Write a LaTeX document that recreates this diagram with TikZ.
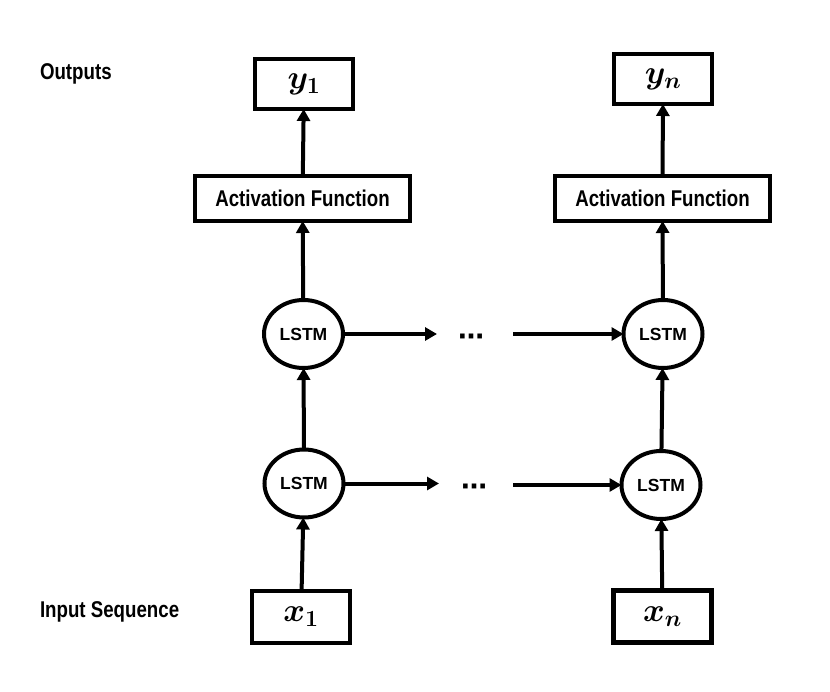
\RequirePackage{fix-cm}
\documentclass[tikz,border=0pt]{standalone}
\usepackage{fontspec}
\setmainfont{Liberation Sans}
\newfontfamily\narrowfont[FakeStretch=0.82]{Liberation Sans}
\newfontfamily\dvfont{DejaVu Sans}
\usepackage{bm}
\usetikzlibrary{shapes.geometric,arrows.meta}
\begin{document}
\begin{tikzpicture}[x=1pt,y=-1pt,
  every node/.style={inner sep=0pt, outer sep=0pt},
  box/.style={draw, rectangle, line width=4.2pt},
  lstm/.style={draw, ellipse, line width=4pt, minimum width=79pt, minimum height=68pt,
    font=\fontsize{17.5}{19}\selectfont\bfseries},
  arr/.style={line width=4pt, -{Triangle[length=12pt,width=13pt]}},
  lbl/.style={font=\narrowfont\bfseries\fontsize{22.8}{26}\selectfont},
  mathlbl/.style={font=\fontsize{33}{36}\selectfont},
  dotsnode/.style={font=\dvfont\bfseries\fontsize{26}{28}\selectfont},
  outbox/.style={box, mathlbl, minimum width=98pt, minimum height=50pt},
  afbox/.style={box, lbl, minimum width=215pt, minimum height=45pt}
  ]
\useasboundingbox (0,0) rectangle (830,692);

% output boxes
\node[outbox] (y1) at (304,84) {$\bm{y}_{\bm{1}}$};
\node[outbox] (yn) at (663,79) {$\bm{y}_{\bm{n}}$};
% activation boxes
\node[afbox] (af1) at (302.5,198.5) {Activation Function};
\node[afbox] (afn) at (662.5,198.5) {Activation Function};
% LSTM cells
\node[lstm] (l12) at (303.5,334) {LSTM};
\node[lstm] (ln2) at (663,334) {LSTM};
\node[lstm] (l11) at (304,483.5) {LSTM};
\node[lstm] (ln1) at (661,485) {LSTM};
% input boxes
\node[outbox, minimum height=52pt] (x1) at (301,617) {$\bm{x}_{\bm{1}}$};
\node[outbox, minimum height=52pt] (xn) at (662.5,616.5) {$\bm{x}_{\bm{n}}$};
% side labels
\node[lbl, anchor=west] (outl) at (40,74) {Outputs};
\node[lbl, anchor=west] (inl) at (40,612) {Input Sequence};
% ellipsis
\node[dotsnode, anchor=center] (d2) at (471,340) {⋯};
\node[dotsnode, anchor=center] (d1) at (474,490) {⋯};
\coordinate (a2) at (437,334);
\coordinate (b2) at (513,334);
\coordinate (a1) at (439,483.5);
\coordinate (b1) at (513,485);

% vertical connectors
\draw[arr] (x1) -- (l11);
\draw[arr] (l11) -- (l12);
\draw[arr] (l12) -- (af1);
\draw[arr] (af1) -- (y1);
\draw[arr] (xn) -- (ln1);
\draw[arr] (ln1) -- (ln2);
\draw[arr] (ln2) -- (afn);
\draw[arr] (afn) -- (yn);
% horizontal connectors
\draw[arr] (l12) -- (a2);
\draw[arr] (b2) -- (ln2);
\draw[arr] (l11) -- (a1);
\draw[arr] (b1) -- (ln1);
\end{tikzpicture}
\end{document}
